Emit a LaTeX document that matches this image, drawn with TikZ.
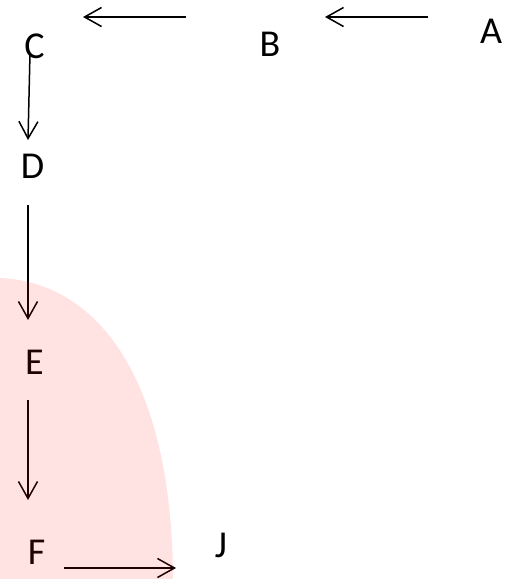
\documentclass[tikz,border=0pt]{standalone}
\usepackage{fontspec}
\setmainfont{Carlito}
\usetikzlibrary{arrows.meta}
\definecolor{blob}{RGB}{255,20,20}
\begin{document}
\begin{tikzpicture}[x=1pt,y=-1pt,
  lbl/.style={inner sep=0pt, font=\fontsize{38}{42}\selectfont, text=black},
  conn/.style={line width=1.5pt, draw=black, -{Straight Barb[length=17pt,width=19pt]}}]
\useasboundingbox (0,0) rectangle (519,579);
% labels
\node[lbl] (A) at (491,31) {A};
\node[lbl] (B) at (270,44) {B};
\node[lbl] (C) at (34.5,46) {C};
\node[lbl] (D) at (32.5,166) {D};
\node[lbl] (E) at (34.5,362) {E};
\node[lbl] (F) at (36.5,552) {F};
\node[lbl] (J) at (221,545) {J};
% connector end points
\coordinate (ab1) at (428,17);  \coordinate (ab2) at (325,17);
\coordinate (bc1) at (186,17);  \coordinate (bc2) at (83,17);
\coordinate (cd1) at (30,53);   \coordinate (cd2) at (28,140);
\coordinate (de1) at (28,205);  \coordinate (de2) at (28,320);
\coordinate (ef1) at (28,400);  \coordinate (ef2) at (28,500);
\coordinate (fj1) at (64,568);  \coordinate (fj2) at (176,568);
\draw[conn] (ab1) -- (ab2);
\draw[conn] (bc1) -- (bc2);
\draw[conn] (cd1) -- (cd2);
\draw[conn] (de1) -- (de2);
\draw[conn] (ef1) -- (ef2);
\draw[conn] (fj1) -- (fj2);
% translucent pink blob over the lower left
\fill[blob, opacity=0.12] (0,278) .. controls (96,282) and (172,376) .. (173,579) -- (0,579) -- cycle;
\end{tikzpicture}
\end{document}
